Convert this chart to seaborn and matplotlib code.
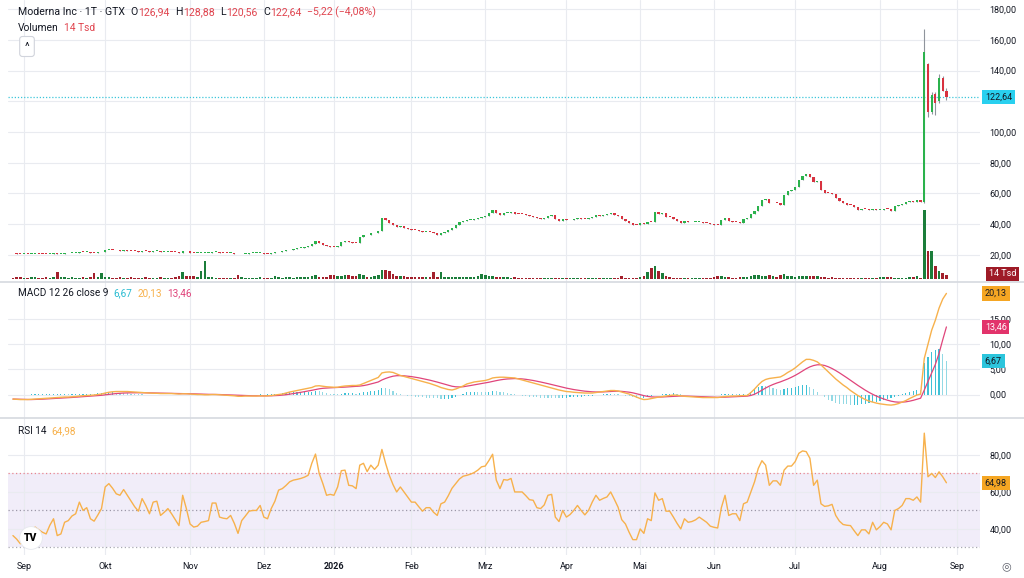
import numpy as np
import pandas as pd
import matplotlib
matplotlib.use("Agg")
import matplotlib.pyplot as plt
import seaborn as sns
from matplotlib.lines import Line2D
from matplotlib.ticker import FuncFormatter

# daily closes, Aug 27 2025 .. Aug 27 2026 (GTX trading days)
closes = [
    21.0, 20.8, 20.6, 20.6, 20.5, 20.7, 20.9, 20.8, 20.7, 20.6,
    20.9, 21.1, 20.7, 20.7, 21.0, 21.1, 21.3, 21.4, 21.9, 21.7,
    21.8, 21.5, 21.4, 21.6, 22.0, 23.0, 23.3, 23.1, 22.9, 22.8,
    23.0, 22.8, 22.6, 22.4, 22.2, 22.6, 22.4, 22.1, 22.4, 22.5,
    22.0, 22.1, 22.2, 22.0, 21.8, 21.5, 22.8, 22.3, 21.5, 21.2,
    21.2, 21.3, 21.3, 21.3, 21.9, 21.9, 21.4, 21.3, 21.2, 21.3,
    20.9, 20.3, 20.7, 20.9, 21.1, 21.1, 21.1, 21.3, 20.9, 20.8,
    21.1, 21.6, 22.0, 22.4, 22.9, 23.5, 24.0, 24.4, 24.8, 25.3,
    25.9, 27.0, 28.8, 27.6, 26.4, 25.6, 25.5, 25.4, 26.0, 28.6,
    28.9, 28.3, 28.1, 27.9, 31.5, 33.2, 32.7, 34.0, 34.3, 35.6,
    44.0, 42.5, 41.0, 39.5, 38.3, 38.8, 37.8, 37.2, 36.5, 36.2,
    35.6, 35.0, 35.2, 35.0, 34.3, 32.8, 34.3, 34.8, 36.0, 37.5,
    39.5, 41.5, 42.2, 42.8, 43.0, 43.6, 44.2, 45.0, 45.5, 47.0,
    49.3, 47.0, 45.8, 47.2, 47.5, 48.0, 46.8, 46.6, 46.5, 46.0,
    45.3, 45.0, 44.2, 43.6, 44.3, 45.5, 45.8, 43.2, 42.3, 43.2,
    42.5, 42.8, 43.4, 44.0, 43.6, 43.2, 43.8, 44.9, 46.0, 45.6,
    46.0, 46.5, 47.2, 46.3, 45.2, 43.5, 42.4, 41.0, 39.8, 39.5,
    40.6, 40.2, 41.6, 41.4, 48.0, 46.6, 47.2, 44.8, 44.5, 43.2,
    42.0, 40.8, 41.8, 41.2, 41.3, 41.5, 41.7, 41.1, 40.6, 40.0,
    39.8, 39.4, 42.5, 44.0, 41.8, 41.6, 41.5, 40.6, 43.2, 44.0,
    46.5, 48.5, 52.0, 55.5, 56.3, 53.5, 53.8, 53.6, 52.8, 59.0,
    61.5, 62.5, 64.0, 68.5, 71.5, 72.5, 71.0, 67.5, 68.0, 62.0,
    60.5, 60.3, 59.8, 57.0, 55.2, 53.8, 52.8, 52.3, 51.0, 49.5,
    50.0, 49.8, 49.0, 50.2, 49.2, 49.5, 50.0, 49.7, 48.8, 51.8,
    52.4, 53.0, 54.6, 55.0, 54.7, 55.5, 54.4, 152.2, 113.0, 124.0,
    119.0, 135.0, 127.0, 122.64,
]
first_open = 21.1
# the last seven sessions have real gaps and wicks
tail_open = [54.4, 144.0, 113.0, 125.0, 120.0, 135.0, 126.94]
tail_high = [167.0, 145.0, 126.0, 126.0, 138.0, 136.5, 128.88]
tail_low = [53.6, 110.0, 112.0, 111.0, 119.0, 126.5, 120.56]

volume_tsd = [
    5, 8, 6, 4, 5, 7, 6, 4, 5, 6,
    5, 6, 26, 8, 7, 5, 6, 4, 5, 6,
    4, 9, 22, 7, 22, 8, 6, 5, 4, 6,
    5, 4, 6, 5, 4, 5, 6, 5, 4, 5,
    6, 5, 4, 5, 7, 10, 25, 12, 11, 10,
    9, 30, 68, 7, 6, 5, 4, 4, 5, 4,
    5, 14, 6, 4, 5, 4, 5, 6, 4, 5,
    5, 11, 6, 5, 6, 7, 5, 6, 7, 8,
    9, 10, 15, 9, 7, 6, 14, 15, 12, 10,
    15, 16, 12, 10, 18, 16, 9, 8, 11, 14,
    34, 33, 30, 18, 12, 10, 11, 9, 8, 7,
    6, 8, 7, 9, 26, 8, 26, 9, 6, 7,
    8, 7, 6, 9, 7, 8, 10, 18, 16, 12,
    11, 9, 8, 7, 6, 5, 6, 5, 4, 5,
    4, 5, 4, 5, 4, 4, 5, 4, 4, 4,
    4, 5, 4, 4, 4, 5, 4, 4, 4, 4,
    4, 4, 5, 4, 4, 11, 5, 4, 4, 5,
    8, 12, 27, 41, 51, 32, 22, 11, 6, 5,
    4, 4, 3, 4, 5, 4, 4, 5, 4, 4,
    8, 10, 11, 9, 6, 5, 4, 6, 8, 9,
    13, 15, 14, 10, 12, 15, 13, 9, 16, 18,
    12, 10, 9, 12, 11, 13, 10, 11, 12, 9,
    6, 5, 6, 5, 4, 5, 4, 5, 4, 4,
    5, 4, 5, 4, 4, 6, 7, 9, 6, 5,
    4, 4, 5, 6, 8, 11, 5, 262, 108, 108,
    51, 32, 23, 14,
]

macd_line = [
    -0.9, -0.95, -1.0, -1.0, -1.0, -0.95, -0.9, -0.85, -0.8, -0.75,
    -0.7, -0.65, -0.6, -0.55, -0.5, -0.5, -0.45, -0.4, -0.3, -0.25,
    -0.2, -0.15, -0.1, 0.0, 0.1, 0.3, 0.45, 0.55, 0.6, 0.6,
    0.6, 0.6, 0.55, 0.5, 0.45, 0.4, 0.35, 0.3, 0.25, 0.25,
    0.2, 0.2, 0.2, 0.2, 0.15, 0.1, 0.15, 0.15, 0.1, 0.05,
    0.0, 0.0, -0.05, -0.05, 0.0, 0.0, -0.05, -0.1, -0.15, -0.2,
    -0.25, -0.35, -0.35, -0.3, -0.3, -0.3, -0.3, -0.25, -0.3, -0.25,
    -0.2, -0.1, 0.0, 0.1, 0.3, 0.5, 0.65, 0.8, 0.95, 1.1,
    1.25, 1.4, 1.7, 1.75, 1.65, 1.55, 1.5, 1.45, 1.45, 1.6,
    1.7, 1.75, 1.8, 1.8, 1.9, 2.2, 2.5, 2.8, 3.1, 3.4,
    4.3, 4.45, 4.5, 4.4, 4.1, 3.8, 3.6, 3.4, 3.2, 3.0,
    2.8, 2.6, 2.4, 2.2, 1.95, 1.7, 1.4, 1.2, 1.0, 0.9,
    1.1, 1.4, 1.7, 2.1, 2.3, 2.5, 2.6, 2.7, 2.8, 3.0,
    3.3, 3.4, 3.45, 3.45, 3.4, 3.35, 3.3, 3.1, 2.9, 2.7,
    2.5, 2.3, 2.1, 1.9, 1.7, 1.5, 1.3, 1.1, 0.9, 0.75,
    0.6, 0.55, 0.45, 0.4, 0.35, 0.3, 0.3, 0.3, 0.4, 0.5,
    0.6, 0.7, 0.8, 0.8, 0.7, 0.5, 0.3, 0.1, -0.2, -0.5,
    -0.8, -1.0, -0.95, -0.8, -0.65, -0.5, -0.4, -0.3, -0.2, -0.1,
    -0.15, -0.25, -0.35, -0.4, -0.45, -0.5, -0.55, -0.6, -0.6, -0.6,
    -0.6, -0.6, -0.5, -0.4, -0.35, -0.3, -0.3, -0.25, -0.2, -0.2,
    0.4, 1.1, 1.9, 2.6, 3.0, 3.2, 3.3, 3.4, 3.5, 3.9,
    4.4, 4.8, 5.3, 5.9, 6.5, 7.0, 7.0, 6.8, 6.5, 5.9,
    5.2, 4.5, 3.8, 3.1, 2.5, 1.9, 1.4, 0.8, 0.3, -0.2,
    -0.6, -1.0, -1.3, -1.5, -1.7, -1.85, -1.95, -2.05, -2.1, -2.0,
    -1.8, -1.5, -1.2, -0.8, -0.45, -0.1, 0.1, 7.2, 10.0, 12.8,
    14.8, 17.2, 19.0, 20.13,
]
signal_line = [
    -0.9, -0.92, -0.95, -0.97, -1.0, -1.0, -0.98, -0.95, -0.92, -0.88,
    -0.84, -0.8, -0.76, -0.72, -0.68, -0.62, -0.58, -0.53, -0.48, -0.43,
    -0.38, -0.33, -0.27, -0.21, -0.15, -0.06, 0.04, 0.13, 0.2, 0.26,
    0.3, 0.33, 0.35, 0.36, 0.36, 0.36, 0.35, 0.34, 0.32, 0.3,
    0.28, 0.26, 0.25, 0.24, 0.22, 0.2, 0.19, 0.18, 0.16, 0.14,
    0.11, 0.09, 0.06, 0.04, 0.03, 0.02, 0.0, -0.03, -0.05, -0.08,
    -0.12, -0.16, -0.2, -0.22, -0.24, -0.25, -0.26, -0.26, -0.26, -0.26,
    -0.25, -0.22, -0.18, -0.12, -0.04, 0.07, 0.19, 0.31, 0.44, 0.57,
    0.7, 0.84, 1.0, 1.14, 1.24, 1.3, 1.34, 1.37, 1.38, 1.42,
    1.48, 1.53, 1.58, 1.63, 1.68, 1.78, 1.92, 2.1, 2.3, 2.5,
    2.9, 3.2, 3.45, 3.65, 3.75, 3.76, 3.73, 3.66, 3.57, 3.46,
    3.33, 3.18, 3.03, 2.86, 2.68, 2.48, 2.27, 2.05, 1.84, 1.65,
    1.54, 1.51, 1.55, 1.66, 1.79, 1.93, 2.06, 2.19, 2.31, 2.45,
    2.62, 2.77, 2.91, 3.02, 3.1, 3.15, 3.18, 3.16, 3.11, 3.03,
    2.92, 2.8, 2.66, 2.5, 2.34, 2.17, 1.99, 1.81, 1.63, 1.45,
    1.28, 1.13, 0.99, 0.87, 0.77, 0.67, 0.6, 0.54, 0.51, 0.51,
    0.53, 0.56, 0.61, 0.65, 0.66, 0.63, 0.56, 0.47, 0.34, 0.17,
    -0.02, -0.22, -0.37, -0.46, -0.5, -0.5, -0.48, -0.44, -0.4, -0.34,
    -0.3, -0.29, -0.3, -0.32, -0.35, -0.39, -0.42, -0.46, -0.49, -0.51,
    -0.53, -0.55, -0.54, -0.52, -0.48, -0.45, -0.42, -0.39, -0.35, -0.32,
    -0.18, 0.07, 0.44, 0.87, 1.3, 1.68, 2.0, 2.28, 2.52, 2.8,
    3.1, 3.44, 3.81, 4.23, 4.68, 5.14, 5.51, 5.77, 5.92, 5.92,
    5.78, 5.52, 5.18, 4.77, 4.32, 3.84, 3.35, 2.84, 2.33, 1.82,
    1.34, 0.87, 0.44, 0.05, -0.3, -0.61, -0.88, -1.12, -1.32, -1.46,
    -1.52, -1.51, -1.45, -1.32, -1.15, -0.94, -0.73, 0.9, 2.6, 4.3,
    6.0, 8.2, 10.9, 13.46,
]
rsi = [
    36.4, 34.5, 32.0, 33.0, 34.5, 38.0, 41.0, 39.5, 38.2, 37.3,
    42.0, 45.5, 36.4, 37.3, 43.6, 44.5, 47.0, 48.2, 54.5, 50.0,
    51.5, 45.5, 44.2, 47.5, 51.0, 62.7, 64.5, 62.0, 59.0, 58.2,
    61.3, 58.2, 55.0, 52.0, 49.6, 56.4, 52.7, 48.2, 54.5, 55.0,
    47.3, 49.0, 51.0, 48.2, 45.0, 41.8, 58.2, 51.0, 42.7, 41.0,
    41.5, 43.6, 44.0, 44.5, 54.0, 54.0, 46.4, 45.8, 45.5, 47.3,
    43.0, 37.6, 44.5, 47.0, 49.6, 50.0, 50.0, 52.7, 46.4, 45.5,
    51.0, 55.0, 61.0, 61.8, 63.5, 65.5, 66.4, 66.8, 67.3, 68.0,
    69.0, 75.5, 80.5, 70.0, 64.5, 58.2, 58.7, 58.2, 62.7, 71.5,
    71.8, 63.6, 63.3, 61.8, 74.5, 75.5, 71.0, 74.5, 72.2, 74.5,
    83.0, 75.5, 69.0, 64.0, 60.0, 62.7, 60.0, 57.3, 54.5, 54.5,
    52.0, 49.6, 51.5, 51.5, 49.0, 47.3, 53.6, 54.5, 58.0, 62.0,
    64.5, 67.0, 68.5, 69.0, 69.6, 70.5, 71.8, 73.6, 74.0, 77.0,
    80.4, 66.4, 61.8, 66.7, 66.4, 67.3, 60.0, 60.0, 60.0, 58.0,
    55.8, 55.5, 51.5, 51.0, 53.0, 58.2, 58.7, 46.4, 44.0, 50.0,
    46.4, 47.8, 50.0, 52.7, 50.0, 47.6, 50.0, 54.5, 58.2, 55.5,
    56.5, 57.3, 60.0, 56.0, 51.8, 45.0, 42.7, 38.2, 34.2, 34.2,
    40.0, 37.6, 45.5, 44.5, 59.5, 55.5, 56.4, 49.6, 49.6, 46.4,
    43.0, 40.0, 45.5, 43.6, 44.0, 44.9, 46.4, 45.0, 43.6, 41.5,
    40.9, 40.5, 51.5, 58.2, 47.3, 48.2, 48.2, 44.5, 53.6, 54.5,
    60.0, 65.5, 72.7, 76.9, 74.5, 63.6, 66.0, 66.0, 63.6, 71.8,
    74.0, 74.0, 76.4, 80.9, 82.2, 81.8, 78.2, 63.6, 66.4, 53.6,
    52.2, 52.5, 53.3, 47.3, 44.2, 42.4, 42.0, 41.8, 39.0, 36.4,
    39.5, 39.5, 37.3, 43.6, 39.5, 41.3, 43.6, 42.7, 39.5, 50.0,
    51.0, 52.7, 56.4, 56.4, 55.5, 57.3, 54.5, 91.8, 68.2, 70.0,
    67.8, 70.9, 68.2, 64.98,
]

month_labels = ["Sep", "Okt", "Nov", "Dez", "2026", "Feb", "Mrz", "Apr", "Mai", "Jun", "Jul", "Aug", "Sep"]
month_pos = [3, 25, 48, 68, 87, 108, 128, 150, 170, 190, 212, 235, 256]
price_ticks = [20, 40, 60, 80, 100, 140, 160, 180]  # 120 is hidden by the last-price tag

# ---- build the table
n = len(closes)
df = pd.DataFrame({"bar": np.arange(n), "close": closes, "vol": volume_tsd,
                   "macd": macd_line, "signal": signal_line, "rsi": rsi})
df["open"] = df["close"].shift(1).fillna(first_open)
df.loc[n - 7:, "open"] = tail_open
df["high"] = df[["open", "close"]].max(axis=1)
df["low"] = df[["open", "close"]].min(axis=1)
df.loc[n - 7:, "high"] = tail_high
df.loc[n - 7:, "low"] = tail_low
df["hist"] = df["macd"] - df["signal"]
up = df["close"] >= df["open"]

GREEN, RED = "#2bb24c", "#d8323f"
VGREEN, VRED = "#1b7d3a", "#a3202c"
ORANGE, PINK, CYAN = "#f7b14c", "#e0457b", "#3cc6da"
TXT, GRID = "#131722", "#e9ebf0"

sns.set_theme(style="white")
plt.rcParams["font.family"] = ["Roboto", "DejaVu Sans"]

W, H = 1024, 578
fig = plt.figure(figsize=(W / 100, H / 100), dpi=100)
fig.patch.set_facecolor("white")


def fx(x):
    return x / W


def fy(y):
    return 1 - y / H


L, R = 8, 980
ax1 = fig.add_axes([fx(L), fy(282), fx(R - L), 282 / H])
ax2 = fig.add_axes([fx(L), fy(418), fx(R - L), 136 / H])
ax3 = fig.add_axes([fx(L), fy(555), fx(R - L), 137 / H])

de_fmt = FuncFormatter(lambda v, p: f"{v:.2f}".replace(".", ","))
for ax in (ax1, ax2, ax3):
    ax.set_xlim(-1.34, 262.1)
    ax.set_xticks(month_pos)
    ax.grid(True, color=GRID, lw=0.8)
    for s in ax.spines.values():
        s.set_visible(False)
    ax.yaxis.tick_right()
    ax.yaxis.set_major_formatter(de_fmt)
    ax.tick_params(axis="y", length=0, pad=7, labelsize=6.5, labelcolor=TXT)
    ax.tick_params(axis="x", length=0)
    ax.set_facecolor("white")
ax1.tick_params(axis="x", labelbottom=False)
ax2.tick_params(axis="x", labelbottom=False)

# ---- price panel
ax1.set_ylim(2.4, 185.9)
ax1.set_yticks(price_ticks)
ax1.axhline(120, color=GRID, lw=0.8, zorder=0)
body = np.maximum((df["close"] - df["open"]).abs(), 0.55)
ax1.vlines(df["bar"], df["low"], df["high"], color="#8f949c", lw=0.8, zorder=2)
ax1.bar(df["bar"], body, bottom=df[["open", "close"]].min(axis=1), width=0.62,
        color=np.where(up, GREEN, RED), zorder=3, linewidth=0)
ax1.axhline(closes[-1], color=CYAN, ls=(0, (1, 1.5)), lw=0.9, zorder=1)

axv = ax1.inset_axes([0, 0, 1, 1])
axv.set_xlim(ax1.get_xlim())
axv.set_ylim(-11.4, 1060)
axv.patch.set_visible(False)
axv.axis("off")
axv.bar(df["bar"], df["vol"], width=0.7, color=np.where(up, VGREEN, VRED), linewidth=0)

# ---- MACD panel
ax2.set_ylim(-4.67, 22.4)
ax2.set_yticks([0, 5, 10, 15])
grow = df["hist"].diff().fillna(0) >= 0
ax2.bar(df["bar"], df["hist"], width=0.32, color=np.where(grow, "#3fc1d6", "#93d9e4"), linewidth=0)
sns.lineplot(data=df, x="bar", y="signal", ax=ax2, color=PINK, lw=0.9)
sns.lineplot(data=df, x="bar", y="macd", ax=ax2, color=ORANGE, lw=1.0)
ax2.set_xlabel("")
ax2.set_ylabel("")

# ---- RSI panel
ax3.set_ylim(25.9, 100)
ax3.set_yticks([40, 60, 80])
ax3.axhspan(30, 70, color="#f1edf9", zorder=0, lw=0)
ax3.axhline(70, color="#e8868f", ls=(0, (1, 2)), lw=0.9)
ax3.axhline(50, color="#9c98a8", ls=(0, (1, 2)), lw=0.9)
ax3.axhline(30, color="#a9a9b3", ls=(0, (1, 2)), lw=0.9)
sns.lineplot(data=df, x="bar", y="rsi", ax=ax3, color=ORANGE, lw=1.0)
ax3.set_xlabel("")
ax3.set_ylabel("")
ax3.set_xticklabels(month_labels)
ax3.tick_params(axis="x", labelsize=6.5, labelcolor=TXT, pad=5)
for lab in ax3.get_xticklabels():
    if lab.get_text() == "2026":
        lab.set_fontweight("bold")


# ---- value boxes on the right scale
def tag(ax, val, text, fc, tc):
    ax.text(1.005, val, text, transform=ax.get_yaxis_transform(), fontsize=6.5, color=tc,
            va="center", ha="left", zorder=10, clip_on=False,
            bbox=dict(boxstyle="square,pad=0.3", fc=fc, ec="none"))


tag(ax1, closes[-1], "122,64", "#29d0ef", TXT)
tag(ax2, macd_line[-1], "20,13", "#f5a623", TXT)
tag(ax2, signal_line[-1], "13,46", "#e2336b", "white")
tag(ax2, macd_line[-1] - signal_line[-1], "6,67", "#2cc5dc", TXT)
tag(ax3, rsi[-1], "64,98", "#f5a623", TXT)
fig.text(fx(989), fy(274), "14 Tsd", fontsize=6.5, color="white", va="center", ha="left",
         bbox=dict(boxstyle="square,pad=0.3", fc="#9e1b27", ec="none"))

# panel separators
for yy in (282, 418):
    fig.add_artist(Line2D([0, 1], [fy(yy), fy(yy)], color="#d6d9df", lw=1.2))

# ---- legends in the panels
renderer = fig.canvas.get_renderer()


def run(x, y, parts, size=7.5):
    for s, col, gap in parts:
        t = fig.text(fx(x), fy(y), s, fontsize=size, color=col, va="center", ha="left")
        x += t.get_window_extent(renderer=renderer).width + gap


REDTXT = "#e0454f"
run(18, 12, [("Moderna Inc · 1T · GTX", TXT, 5), ("O", TXT, 1), ("126,94", REDTXT, 5),
             ("H", TXT, 1), ("128,88", REDTXT, 5), ("L", TXT, 1), ("120,56", REDTXT, 5),
             ("C", TXT, 1), ("122,64", REDTXT, 5), ("−5,22 (−4,08%)", REDTXT, 0)], size=7.6)
run(18, 28, [("Volumen", TXT, 5), ("14 Tsd", REDTXT, 0)], size=7.4)
fig.text(fx(27), fy(46.5), "^", fontsize=8, color=TXT, ha="center", va="center",
         bbox=dict(boxstyle="round,pad=0.45,rounding_size=0.25", fc="white", ec="#d1d4dc", lw=0.8))
run(18, 293, [("MACD 12 26 close 9", TXT, 5), ("6,67", "#2bbcd2", 5),
              ("20,13", ORANGE, 5), ("13,46", PINK, 0)], size=7.2)
run(18, 431, [("RSI 14", TXT, 5), ("64,98", ORANGE, 0)], size=7.2)

fig.text(fx(31), fy(538), "TV", fontsize=7.5, fontweight="heavy", color="black", ha="center", va="center",
         bbox=dict(boxstyle="circle,pad=0.45", fc="white", ec="#e6e8ee", lw=0.6))
fig.text(fx(1006), fy(566), "◎", fontsize=8, color="#5d606b", ha="center", va="center")

fig.savefig("out.png", dpi=100, facecolor="white")
